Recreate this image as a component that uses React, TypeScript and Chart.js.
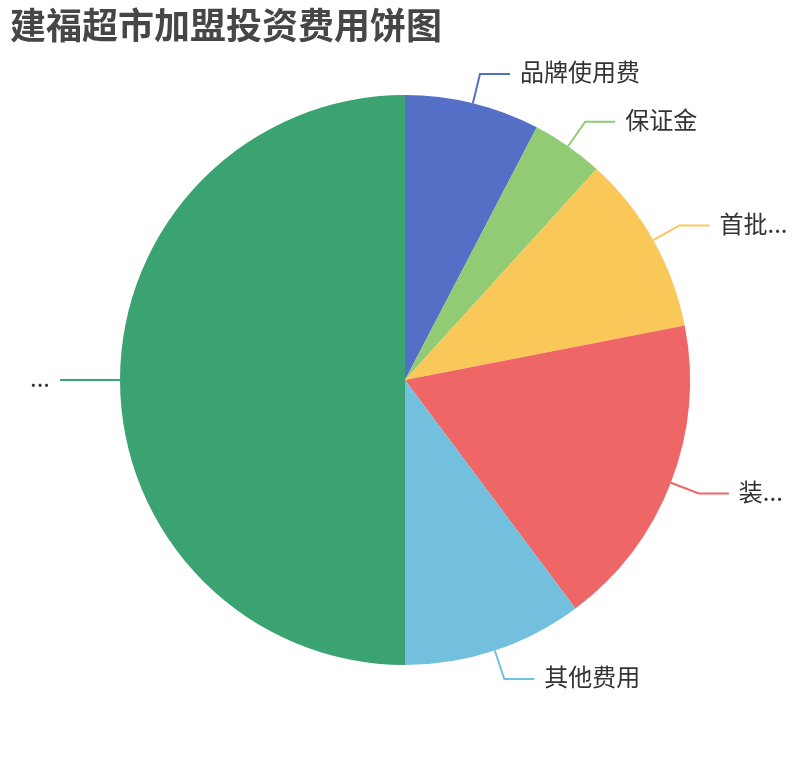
import { useEffect, useRef } from 'react';
import { Chart, registerables } from 'chart.js';
import type { ChartConfiguration, Plugin } from 'chart.js';

Chart.register(...registerables);

// 费用项目（单位：万元，按图中扇区角度估算）
const categories = ['品牌使用费', '保证金', '首批进货费', '装修费用', '其他费用', '总计'];
const values = [1.5, 0.8, 2, 3.5, 2, 9.8];
const colors = ['#5470c6', '#91cc75', '#fac858', '#ee6666', '#73c0de', '#3ba272'];

const TITLE = '建福超市加盟投资费用饼图';
const FONT = '"Noto Sans CJK SC", "Noto Sans", sans-serif';

// fit the label into the space left to the canvas edge, like ECharts' truncate
function truncate(ctx: CanvasRenderingContext2D, text: string, maxW: number) {
  if (ctx.measureText(text).width <= maxW) return text;
  let s = text;
  while (s.length > 0 && ctx.measureText(s + '...').width > maxW) {
    s = s.slice(0, -1);
  }
  return s + '...';
}

const labelPlugin: Plugin<'pie'> = {
  id: 'pieLabels',
  afterDraw(chart) {
    const ctx = chart.ctx;
    const meta = chart.getDatasetMeta(0);
    const len1 = 30;
    const len2 = 30;
    ctx.save();

    // title
    ctx.font = `bold 36px ${FONT}`;
    ctx.fillStyle = '#464646';
    ctx.textAlign = 'left';
    ctx.textBaseline = 'middle';
    ctx.fillText(TITLE, 10, 25);

    ctx.font = `24px ${FONT}`;
    meta.data.forEach((el, i) => {
      const { x, y, startAngle, endAngle, outerRadius } = (el as any).getProps(
        ['x', 'y', 'startAngle', 'endAngle', 'outerRadius'],
        true
      );
      const mid = (startAngle + endAngle) / 2;
      const cos = Math.cos(mid);
      const sin = Math.sin(mid);
      const right = cos >= 0;
      const x1 = x + outerRadius * cos;
      const y1 = y + outerRadius * sin;
      const x2 = x + (outerRadius + len1) * cos;
      const y2 = y + (outerRadius + len1) * sin;
      const x3 = x2 + (right ? len2 : -len2);

      ctx.strokeStyle = colors[i];
      ctx.lineWidth = 2;
      ctx.beginPath();
      ctx.moveTo(x1, y1);
      ctx.lineTo(x2, y2);
      ctx.lineTo(x3, y2);
      ctx.stroke();

      const tx = x3 + (right ? 10 : -10);
      const avail = right ? chart.width - 20 - tx : tx - 20;
      ctx.fillStyle = '#333';
      ctx.textAlign = right ? 'left' : 'right';
      ctx.textBaseline = 'middle';
      ctx.fillText(truncate(ctx, categories[i], avail), tx, y2 - 2);
    });
    ctx.restore();
  },
};

export default function App() {
  const canvasRef = useRef<HTMLCanvasElement>(null);

  useEffect(() => {
    document.body.style.margin = '0';
    if (!canvasRef.current) return;

    const config: ChartConfiguration<'pie'> = {
      type: 'pie',
      data: {
        labels: categories,
        datasets: [
          {
            data: values,
            backgroundColor: colors,
            borderWidth: 0,
            hoverOffset: 0,
            offset: 0,
          },
        ],
      },
      options: {
        responsive: false,
        animation: false,
        layout: { padding: { left: 120, right: 120, top: 95, bottom: 95 } },
        plugins: {
          legend: { display: false },
          tooltip: { enabled: false },
        },
      },
      plugins: [labelPlugin],
    };

    const chart = new Chart(canvasRef.current, config);
    return () => chart.destroy();
  }, []);

  return (
    <div style={{ width: 810, height: 760, background: '#fff' }}>
      <canvas ref={canvasRef} width={810} height={760} />
    </div>
  );
}
